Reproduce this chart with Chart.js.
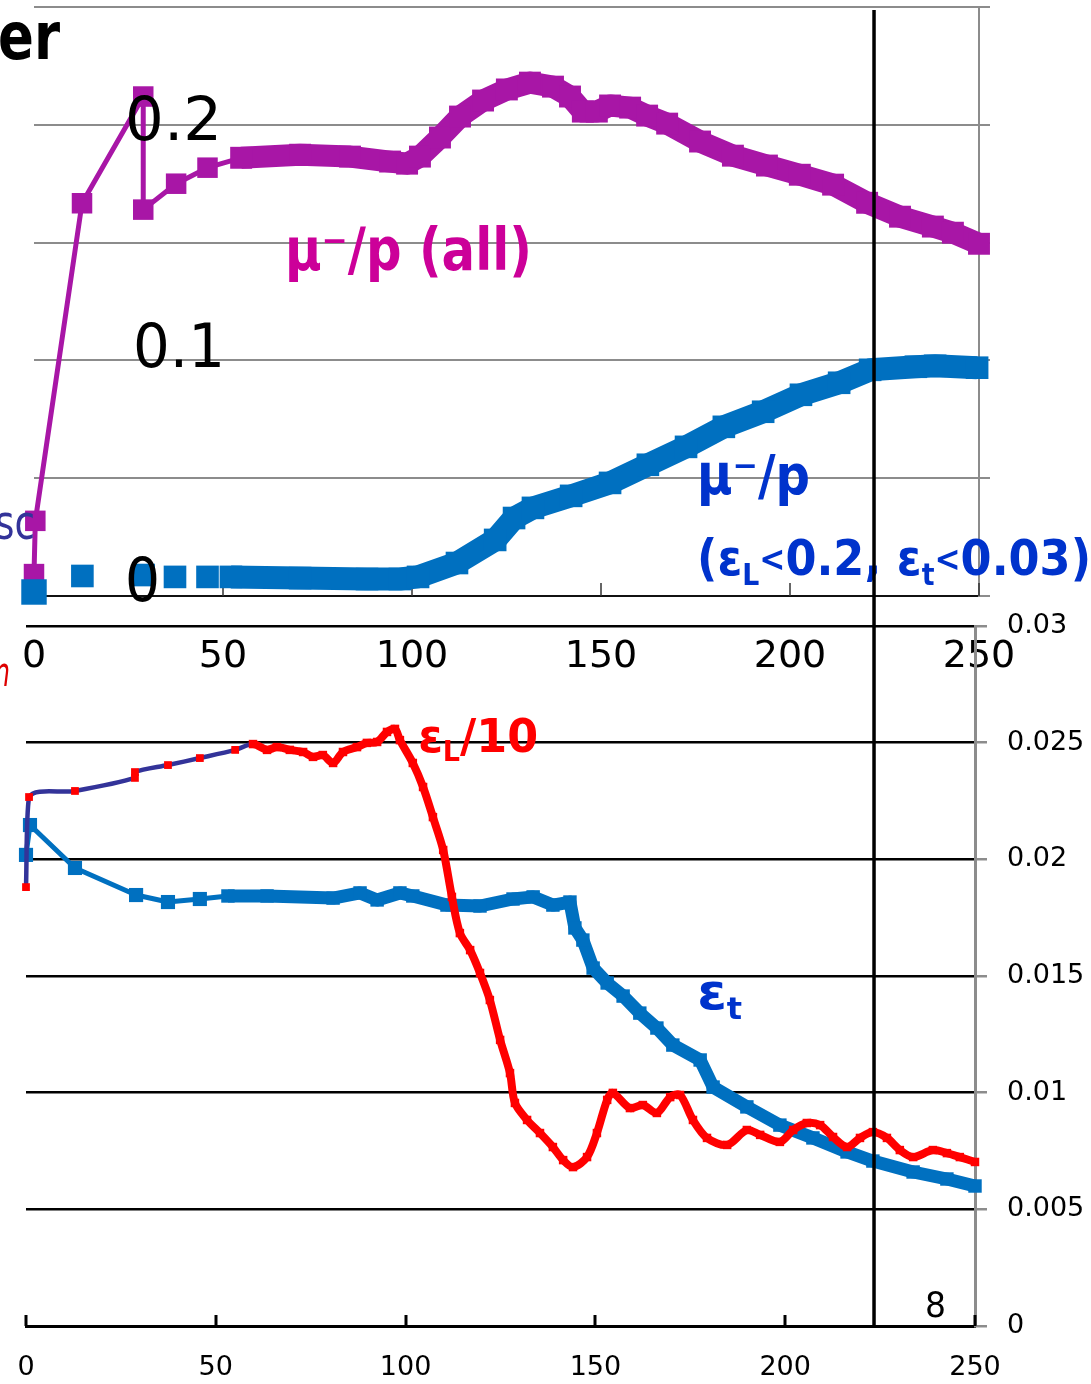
<!DOCTYPE html>
<html>
<head>
<meta charset="utf-8">
<script src="https://cdn.jsdelivr.net/npm/chart.js@4.4.1/dist/chart.umd.min.js"></script>
<style>
  html, body { margin: 0; padding: 0; background: #fff; overflow: hidden; }
  canvas { position: absolute; left: 0; top: 0; }
</style>
</head>
<body>
<canvas id="ratio" width="1091" height="1384"></canvas>
<canvas id="emit" width="1091" height="1384"></canvas>
<script>
// mu-/p, all muons (first 7 points are single markers, the rest is the dense run)
const muAllX = [0, 0.35, 12.7, 28.9, 28.9, 37.6, 45.9, 54.8, 70.4, 83.6, 94.2, 98.7, 102.1, 107.4, 112.7, 118.8, 125.1, 131.2, 137.3, 141.8, 145.2, 148.9, 152.4, 157.7, 162.2, 167.5, 176.2, 184.9, 193.9, 202.6, 211.4, 220.4, 229.1, 237.8, 243.1, 250];
const muAllY = [0.0093, 0.0319, 0.1667, 0.212, 0.164, 0.175, 0.1818, 0.186, 0.1873, 0.1865, 0.1844, 0.1835, 0.1865, 0.1946, 0.2035, 0.2103, 0.215, 0.2179, 0.2162, 0.212, 0.2056, 0.2056, 0.2082, 0.2073, 0.2039, 0.2005, 0.1929, 0.1869, 0.1827, 0.1788, 0.1746, 0.1669, 0.161, 0.1568, 0.1542, 0.1495];
const MU_ALL_DENSE = 7;

// mu-/p inside the emittance cuts
const muCutX = [0, 12.8, 29.0, 37.3, 45.9, 52.1, 70.4, 88.1, 96.8, 101.6, 111.9, 122.0, 127.0, 132.0, 142.1, 152.4, 162.4, 172.5, 182.5, 192.9, 202.9, 213.0, 221.2, 233.3, 238.4, 249.5];
const muCutY = [0.0017, 0.0085, 0.0089, 0.0081, 0.0081, 0.0081, 0.0076, 0.0072, 0.0072, 0.0081, 0.0140, 0.0238, 0.0331, 0.0374, 0.0425, 0.0480, 0.0557, 0.0633, 0.0718, 0.0782, 0.0854, 0.0905, 0.0960, 0.0973, 0.0977, 0.0969];
const MU_CUT_DENSE = 5;

// longitudinal emittance / 10
const epsLX = [0, 0.8, 12.9, 28.7, 28.7, 37.4, 45.8, 55.1, 59.8, 63.5, 66.1, 69.5, 73.0, 75.6, 78.2, 80.9, 83.5, 87.2, 89.8, 92.5, 95.1, 97.2, 98.5, 101.9, 104.6, 107.2, 109.9, 112.2, 114.3, 117.0, 119.6, 122.2, 124.9, 127.5, 128.8, 132.0, 135.4, 138.8, 141.5, 144.1, 147.8, 150.4, 153.1, 154.6, 159.1, 162.5, 166.2, 169.7, 172.3, 175.7, 179.4, 184.7, 189.9, 193.4, 198.6, 202.1, 205.7, 209.2, 212.6, 216.3, 219.7, 223.1, 226.8, 230.2, 233.7, 238.9, 242.6, 246.0, 250.0];
const epsLY = [0.01881, 0.02267, 0.02293, 0.02349, 0.02374, 0.02404, 0.02434, 0.02469, 0.02494, 0.02469, 0.02481, 0.02469, 0.02460, 0.02439, 0.02447, 0.02413, 0.02460, 0.02481, 0.02499, 0.02503, 0.02546, 0.02559, 0.02511, 0.02413, 0.02310, 0.02181, 0.02040, 0.01839, 0.01684, 0.01611, 0.01513, 0.01397, 0.01226, 0.01084, 0.00956, 0.00883, 0.00827, 0.00767, 0.00711, 0.00681, 0.00724, 0.00827, 0.00969, 0.00999, 0.00934, 0.00947, 0.00913, 0.00981, 0.00990, 0.00883, 0.00806, 0.00776, 0.00840, 0.00819, 0.00789, 0.00840, 0.00870, 0.00861, 0.00810, 0.00767, 0.00806, 0.00831, 0.00806, 0.00754, 0.00724, 0.00754, 0.00741, 0.00724, 0.00703];
const EPS_L_DENSE = 8;

// transverse emittance
const epsTX = [0, 1.05, 12.9, 29.0, 37.4, 45.8, 53.2, 63.5, 80.9, 88.0, 92.5, 98.5, 101.9, 110.9, 119.6, 128.3, 133.6, 138.8, 143.3, 144.6, 146.7, 149.4, 153.1, 157.3, 161.7, 166.2, 170.4, 177.6, 181.0, 189.9, 198.6, 207.3, 216.3, 223.1, 233.7, 242.6, 250.0];
const epsTY = [0.02019, 0.02147, 0.01963, 0.01847, 0.01817, 0.0183, 0.01843, 0.01843, 0.01834, 0.01856, 0.01826, 0.01856, 0.01843, 0.01804, 0.01800, 0.0183, 0.01839, 0.01804, 0.01817, 0.01706, 0.01654, 0.01534, 0.0147, 0.01414, 0.01341, 0.01277, 0.01204, 0.0114, 0.01024, 0.00939, 0.00861, 0.00806, 0.00746, 0.00707, 0.0066, 0.0063, 0.006];
const EPS_T_DENSE = 6;

const xTicks = [0, 50, 100, 150, 200, 250];
const ratioTicks = [0, 0.05, 0.1, 0.15, 0.2, 0.25];
const emitTicks = [0, 0.005, 0.01, 0.015, 0.02, 0.025, 0.03];
const emitTickLabels = ['0', '0.005', '0.01', '0.015', '0.02', '0.025', '0.03'];
const MARKER_X = 223.4;

const MAGENTA = '#A816A6';
const BLUE = '#0070C0';
const RED = '#FF0000';
const NAVY = '#333399';
const LABEL_BLUE = '#0033CC';
const LABEL_MAGENTA = '#CC0099';
const GRID_GRAY = '#8C8C8C';
const FONT = '"DejaVu Sans", Verdana, sans-serif';

const sub = t => ({ t, s: 0.6, dy: 0.3 });

const ratioNotes = [
  { runs: [{ t: 'er' }], x: 6.9, y: 0.2353, size: 66, weight: 'bold', color: '#000', width: 62, align: 'right' },
  { runs: [{ t: '0.2' }], x: 24.1, y: 0.2, size: 60, color: '#000', width: 97 },
  { runs: [{ t: '0.1' }], x: 26.2, y: 0.1037, size: 60, color: '#000', width: 92 },
  { runs: [{ t: '0' }], x: 24.1, y: 0.0047, size: 60, color: '#000', width: 35 },
  { runs: [{ t: 'μ' }, { t: '⁻' }, { t: '/p (all)' }], x: 66.4, y: 0.1449, size: 58, weight: 'bold', color: LABEL_MAGENTA, width: 247 },
  { runs: [{ t: 'μ' }, { t: '⁻' }, { t: '/p' }], x: 175.4, y: 0.0493, size: 56, weight: 'bold', color: LABEL_BLUE, width: 113 },
  { runs: [{ t: '(ε' }, sub('L'), { t: '<', s: 0.7 }, { t: '0.2, ε' }, sub('t'), { t: '<', s: 0.7 }, { t: '0.03)' }],
    x: 175.4, y: 0.0144, size: 50, weight: 'bold', color: LABEL_BLUE, width: 394 },
  { runs: [{ t: 'sc' }], x: 0.26, y: 0.0293, size: 48, color: NAVY, width: 40, align: 'right' },
  { runs: [{ t: 'n' }], x: -6.35, y: -0.034, size: 40, style: 'italic', color: '#DD0000', width: 16, align: 'right' }
];

const emitNotes = [
  { runs: [{ t: 'ε' }, sub('L'), { t: '/10' }], x: 103.3, y: 0.0251, size: 46, weight: 'bold', color: RED, width: 120 },
  { runs: [{ t: 'ε' }, sub('t')], x: 176.8, y: 0.01414, size: 50, weight: 'bold', color: LABEL_BLUE, width: 45 },
  { runs: [{ t: '8' }], x: 236.8, y: 0.00077, size: 36, color: '#000', width: 21 }
];

function pts(xs, ys) {
  return xs.map((x, i) => ({ x, y: ys[i] }));
}

// draws a label made of runs (normal, sub/superscript) squeezed to a given width
function drawNote(ctx, note, xs, ys) {
  const px = xs.getPixelForValue(note.x);
  const py = ys.getPixelForValue(note.y);
  const fontFor = r => `${note.style || 'normal'} ${note.weight || 'normal'} ${Math.round(note.size * (r.s || 1))}px ${FONT}`;
  let w = 0;
  note.runs.forEach(r => { ctx.font = fontFor(r); w += ctx.measureText(r.t).width; });
  const k = note.width ? note.width / w : 1;
  const left = note.align === 'right' ? px - w * k : px;
  ctx.save();
  ctx.translate(left, py);
  ctx.scale(k, 1);
  ctx.fillStyle = note.color;
  ctx.textBaseline = 'middle';
  ctx.textAlign = 'left';
  let cx = 0;
  note.runs.forEach(r => {
    ctx.font = fontFor(r);
    ctx.fillText(r.t, cx, (r.dy || 0) * note.size);
    cx += ctx.measureText(r.t).width;
  });
  ctx.restore();
}

const notesPlugin = notes => ({
  id: 'notes',
  afterDraw(chart) {
    const { ctx, scales: { x, y } } = chart;
    notes.forEach(n => drawNote(ctx, n, x, y));
  }
});

// tick marks pointing up into the plot from the x axis
const innerTicks = (len, width, color) => ({
  id: 'innerTicks',
  beforeDatasetsDraw(chart) {
    const { ctx, chartArea, scales: { x } } = chart;
    ctx.save();
    ctx.strokeStyle = color;
    ctx.lineWidth = width;
    xTicks.forEach(v => {
      const px = Math.round(x.getPixelForValue(v));
      ctx.beginPath();
      ctx.moveTo(px, chartArea.bottom);
      ctx.lineTo(px, chartArea.bottom - len);
      ctx.stroke();
    });
    ctx.restore();
  }
});

const markerLine = {
  id: 'markerLine',
  afterDatasetsDraw(chart) {
    const { ctx, chartArea, scales: { x } } = chart;
    const px = x.getPixelForValue(MARKER_X);
    ctx.save();
    ctx.strokeStyle = '#000';
    ctx.lineWidth = 3.5;
    ctx.beginPath();
    ctx.moveTo(px, 10);
    ctx.lineTo(px, chartArea.bottom);
    ctx.stroke();
    ctx.restore();
  }
};

const common = {
  responsive: false,
  animation: false,
  devicePixelRatio: 1,
  events: [],
  plugins: { legend: { display: false }, tooltip: { enabled: false } }
};

const setTicks = list => s => { s.ticks = list.map(v => ({ value: v })); };
// fixed axis size; the layout padding alone places the plot area
const fixSize = (key, size) => s => {
  s[key] = size;
  s.paddingLeft = s.paddingRight = s.paddingTop = s.paddingBottom = 0;
};

new Chart(document.getElementById('ratio'), {
  type: 'line',
  data: {
    datasets: [
      {
        label: 'μ-/p (εL<0.2, εt<0.03)',
        data: pts(muCutX, muCutY),
        borderColor: BLUE,
        pointBackgroundColor: BLUE,
        pointBorderWidth: 0,
        pointStyle: 'rect',
        pointRadius: c => (c.dataIndex === 0 ? 18 : 16),
        borderWidth: 23,
        borderJoinStyle: 'round',
        segment: { borderColor: c => (c.p0DataIndex >= MU_CUT_DENSE ? BLUE : 'rgba(0,0,0,0)') },
        tension: 0,
        clip: false
      },
      {
        label: 'μ-/p (all)',
        data: pts(muAllX, muAllY),
        borderColor: MAGENTA,
        pointBackgroundColor: MAGENTA,
        pointBorderWidth: 0,
        pointStyle: 'rect',
        pointRadius: c => (c.dataIndex < MU_ALL_DENSE ? 14.5 : 15.5),
        borderWidth: 5,
        borderJoinStyle: 'round',
        segment: { borderWidth: c => (c.p0DataIndex >= MU_ALL_DENSE ? 22 : 5) },
        tension: 0,
        clip: false
      }
    ]
  },
  options: {
    ...common,
    layout: { autoPadding: false, padding: { left: 34, top: 7, right: 0, bottom: 0 } },
    scales: {
      x: {
        type: 'linear', min: 0, max: 250,
        afterBuildTicks: setTicks(xTicks),
        ticks: { font: { family: FONT, size: 38 }, color: '#000', padding: 38, maxRotation: 0, autoSkip: false },
        grid: { display: false, drawTicks: false },
        border: { display: true, color: '#111', width: 2, dash: [2, 2] },
        afterFit: fixSize('height', 788)
      },
      y: {
        position: 'right', min: 0, max: 0.25,
        afterBuildTicks: setTicks(ratioTicks),
        ticks: { display: false },
        grid: {
          color: c => (c.tick && c.tick.value === 0 ? 'rgba(0,0,0,0)' : GRID_GRAY),
          tickColor: GRID_GRAY, lineWidth: 2, tickLength: 11
        },
        border: { color: GRID_GRAY, width: 2 },
        afterFit: fixSize('width', 112)
      }
    }
  },
  plugins: [innerTicks(13, 1.5, '#333'), notesPlugin(ratioNotes)]
});

new Chart(document.getElementById('emit'), {
  type: 'line',
  data: {
    datasets: [
      {
        label: 'εL/10',
        data: pts(epsLX, epsLY),
        borderColor: NAVY,
        pointBackgroundColor: RED,
        pointBorderWidth: 0,
        pointStyle: 'rect',
        pointRadius: c => (c.dataIndex < EPS_L_DENSE ? 5.5 : 6),
        borderWidth: 4.5,
        segment: {
          borderColor: c => (c.p0DataIndex >= EPS_L_DENSE ? RED : NAVY),
          borderWidth: c => (c.p0DataIndex >= EPS_L_DENSE ? 8 : 4.5)
        },
        tension: 0.3,
        clip: false
      },
      {
        label: 'εt',
        data: pts(epsTX, epsTY),
        borderColor: BLUE,
        pointBackgroundColor: BLUE,
        pointBorderWidth: 0,
        pointStyle: 'rect',
        pointRadius: c => (c.dataIndex < EPS_T_DENSE ? 10 : 9.5),
        borderWidth: 5,
        borderJoinStyle: 'round',
        segment: { borderWidth: c => (c.p0DataIndex >= EPS_T_DENSE ? 13 : 5) },
        tension: 0,
        clip: false
      }
    ]
  },
  options: {
    ...common,
    layout: { autoPadding: false, padding: { left: 26, top: 626, right: 0, bottom: 0 } },
    scales: {
      x: {
        type: 'linear', min: 0, max: 250,
        afterBuildTicks: setTicks(xTicks),
        ticks: { font: { family: FONT, size: 27 }, color: '#000', padding: 26, maxRotation: 0, autoSkip: false },
        grid: { display: false, drawTicks: false },
        border: { display: true, color: '#000', width: 3 },
        afterFit: fixSize('height', 58)
      },
      y: {
        position: 'right', min: 0, max: 0.03,
        afterBuildTicks: setTicks(emitTicks),
        ticks: { font: { family: FONT, size: 27 }, color: '#000', padding: 20, callback: (v, i) => emitTickLabels[i] },
        grid: { color: '#000', tickColor: GRID_GRAY, lineWidth: 2.5, tickLength: 12 },
        border: { color: GRID_GRAY, width: 3 },
        afterFit: fixSize('width', 116)
      }
    }
  },
  plugins: [innerTicks(11, 3, '#000'), markerLine, notesPlugin(emitNotes)]
});
</script>
</body>
</html>
